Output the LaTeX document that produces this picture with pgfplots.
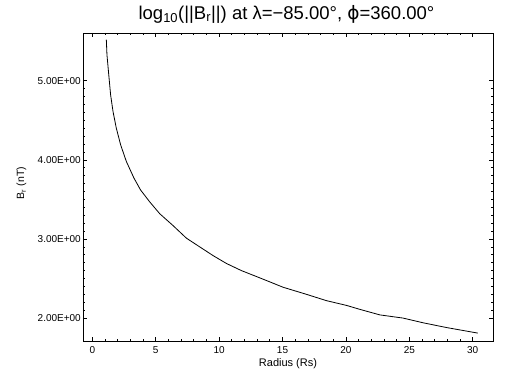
\documentclass[border=0pt]{standalone}
\usepackage{fontspec}
\setmainfont{Liberation Sans}
\newfontfamily\dejavu{DejaVu Sans}
\usepackage{pgfplots}
\pgfplotsset{compat=1.18}
\begin{document}
\begin{tikzpicture}
\path[use as bounding box] (-83pt,-43pt) rectangle (429pt,341pt);
\begin{axis}[
  at={(0pt,0pt)}, anchor=south west, scale only axis,
  width=410pt, height=308pt,
  xmin=-0.74, xmax=31.6, ymin=1.71, ymax=5.605,
  xtick={0,5,10,15,20,25,30},
  xticklabels={0,5,10,15,20,25,30},
  ytick={2,3,4,5},
  yticklabels={2.00E+00,3.00E+00,4.00E+00,5.00E+00},
  minor x tick num=4, minor y tick num=9,
  tick align=inside, tick pos=both,
  major tick length=4pt, minor tick length=2pt,
  every tick/.style={black, line width=0.8pt},
  axis line style={black, line width=0.8pt},
  xticklabel style={font=\fontsize{10}{12}\selectfont, inner sep=0pt, yshift=-5.5pt},
  yticklabel style={font=\fontsize{10}{12}\selectfont, inner sep=0pt, xshift=-2pt},
  xlabel={Radius (Rs)},
  xlabel style={font=\fontsize{11}{13}\selectfont, at={(axis description cs:0.5,0)}, anchor=base, yshift=-25.5pt},
  ylabel={B\textsubscript{r} (nT)},
  ylabel style={font=\fontsize{10.5}{12}\selectfont, at={(axis description cs:0,0.5)}, anchor=center, xshift=4pt, yshift=61.5pt},
  title={log\textsubscript{10}(||B\textsubscript{r}||) at λ=−85.00°, {\dejavu ϕ}=360.00°},
  title style={font=\fontsize{18.5}{22}\selectfont, at={(axis description cs:0.5,1)}, anchor=base, yshift=7.7pt, xshift=-1.5pt},
]
\addplot[black, line width=0.8pt] coordinates {
(1.10,5.52) (1.15,5.33) (1.29,5.08) (1.44,4.82) (1.63,4.61) (1.89,4.40)
(2.23,4.19) (2.68,3.98) (3.28,3.77) (3.80,3.62) (4.52,3.47) (5.31,3.32)
(6.36,3.17) (7.42,3.01) (8.47,2.90) (9.52,2.79) (10.58,2.69) (11.76,2.60)
(13.34,2.50) (15.04,2.39) (16.89,2.30) (18.47,2.22) (20.05,2.16) (21.1,2.11)
(22.68,2.04) (24.5,2.00) (26.1,1.94) (27.94,1.88) (30.4,1.81)
};
\end{axis}
\end{tikzpicture}
\end{document}
